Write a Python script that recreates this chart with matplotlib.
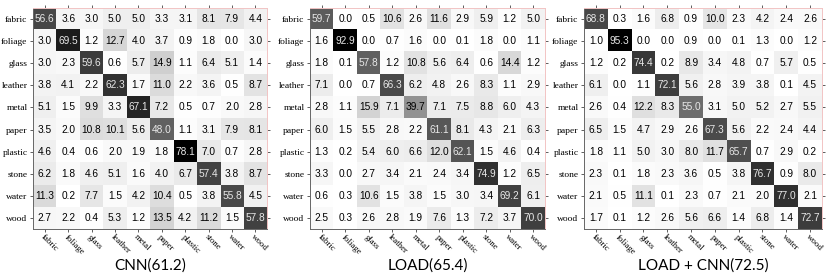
import numpy as np
import matplotlib.pyplot as plt

classes = ['fabric', 'foliage', 'glass', 'leather', 'metal',
           'paper', 'plastic', 'stone', 'water', 'wood']

cnn = [
    [56.6, 3.6, 3.0, 5.0, 5.0, 3.3, 3.1, 8.1, 7.9, 4.4],
    [3.0, 69.5, 1.2, 12.7, 4.0, 3.7, 0.9, 1.8, 0.0, 3.0],
    [3.0, 2.3, 59.6, 0.6, 5.7, 14.9, 1.1, 6.4, 5.1, 1.4],
    [3.8, 4.1, 2.2, 62.3, 1.7, 11.0, 2.2, 3.6, 0.5, 8.7],
    [5.1, 1.5, 9.9, 3.3, 67.1, 7.2, 0.5, 0.7, 2.0, 2.8],
    [3.5, 2.0, 10.8, 10.1, 5.6, 48.0, 1.1, 3.1, 7.9, 8.1],
    [4.6, 0.4, 0.6, 2.0, 1.9, 1.8, 78.1, 7.0, 0.7, 2.8],
    [6.2, 1.8, 4.6, 5.1, 1.6, 4.0, 6.7, 57.4, 3.8, 8.7],
    [11.3, 0.2, 7.7, 1.5, 4.2, 10.4, 0.5, 3.8, 55.8, 4.5],
    [2.7, 2.2, 0.4, 5.3, 1.2, 13.5, 4.2, 11.2, 1.5, 57.8],
]

load = [
    [59.7, 0.0, 0.5, 10.6, 2.6, 11.6, 2.9, 5.9, 1.2, 5.0],
    [1.6, 92.9, 0.0, 0.7, 1.6, 0.0, 0.1, 1.8, 0.0, 1.1],
    [1.8, 0.1, 57.8, 1.2, 10.8, 5.6, 6.4, 0.6, 14.4, 1.2],
    [7.1, 0.0, 0.7, 66.3, 6.2, 4.8, 2.6, 8.3, 1.1, 2.9],
    [2.8, 1.1, 15.9, 7.1, 39.7, 7.1, 7.5, 8.8, 6.0, 4.3],
    [6.0, 1.5, 5.5, 2.8, 2.2, 61.1, 8.1, 4.3, 2.1, 6.3],
    [1.3, 0.2, 5.4, 6.0, 6.6, 12.0, 62.1, 1.5, 4.6, 0.4],
    [3.3, 0.0, 2.7, 3.4, 2.1, 2.4, 3.4, 74.9, 1.2, 6.5],
    [0.6, 0.3, 10.6, 1.5, 3.8, 1.5, 3.0, 3.4, 69.2, 6.1],
    [2.5, 0.3, 2.6, 2.8, 1.9, 7.6, 1.3, 7.2, 3.7, 70.0],
]

load_cnn = [
    [68.8, 0.3, 1.6, 6.8, 0.9, 10.0, 2.3, 4.2, 2.4, 2.6],
    [1.0, 95.3, 0.0, 0.0, 0.9, 0.0, 0.1, 1.3, 0.0, 1.2],
    [1.2, 0.2, 74.4, 0.2, 8.9, 3.4, 4.8, 0.7, 5.7, 0.5],
    [6.1, 0.0, 1.1, 72.1, 5.6, 2.8, 3.9, 3.8, 0.1, 4.5],
    [2.6, 0.4, 12.2, 8.3, 55.0, 3.1, 5.0, 5.2, 2.7, 5.5],
    [6.5, 1.5, 4.7, 2.9, 2.6, 67.3, 5.6, 2.2, 2.4, 4.4],
    [1.8, 1.1, 5.0, 3.0, 8.0, 11.7, 65.7, 0.7, 2.9, 0.2],
    [2.3, 0.1, 1.8, 2.3, 3.6, 0.5, 3.8, 76.7, 0.9, 8.0],
    [2.1, 0.5, 11.1, 0.1, 2.3, 0.7, 2.1, 2.0, 77.0, 2.1],
    [1.7, 0.1, 1.2, 2.6, 5.6, 6.6, 1.4, 6.8, 1.4, 72.7],
]

titles = ['CNN(61.2)', 'LOAD(65.4)', 'LOAD + CNN(72.5)']
mats = [cnn, load, load_cnn]

fig = plt.figure(figsize=(8.3, 2.73), dpi=100)
lefts = [0.0398, 0.3735, 0.7036]
widths = [0.282, 0.283, 0.2867]

for left, w, m, title in zip(lefts, widths, mats, titles):
    ax = fig.add_axes([left, 0.161, w, 0.81])
    m = np.array(m)
    vmax = m.max()
    ax.imshow(m, cmap='gray_r', vmin=0, vmax=vmax, aspect='auto')
    for i in range(10):
        for j in range(10):
            v = m[i, j]
            c = '#e8e8e8' if v / vmax > 0.5 else 'black'
            ax.text(j, i, '%.1f' % v, ha='center', va='center',
                    fontsize=7.3, color=c, family='Liberation Sans')
    ax.set_xticks(range(10))
    ax.set_yticks(range(10))
    ax.set_xticklabels(classes, rotation=-45, ha='left', va='top',
                       rotation_mode='anchor', family='Liberation Serif', fontsize=6.3)
    ax.set_yticklabels(classes, family='Liberation Serif', fontsize=6.8)
    ax.tick_params(length=2.5, width=0.6, pad=1.5, top=True, right=True,
                   color='#444444')
    ax.tick_params(axis='x', pad=0.5)
    for s in ['top', 'right']:
        ax.spines[s].set_color('#f2c4c4')
    for s in ['left', 'bottom']:
        ax.spines[s].set_color('#666666')
    for s in ax.spines.values():
        s.set_linewidth(0.7)
    ax.text(0.5, -0.165, title, transform=ax.transAxes, ha='center', va='center',
            fontsize=11, family='Lato')

fig.savefig('out.png', dpi=100)
